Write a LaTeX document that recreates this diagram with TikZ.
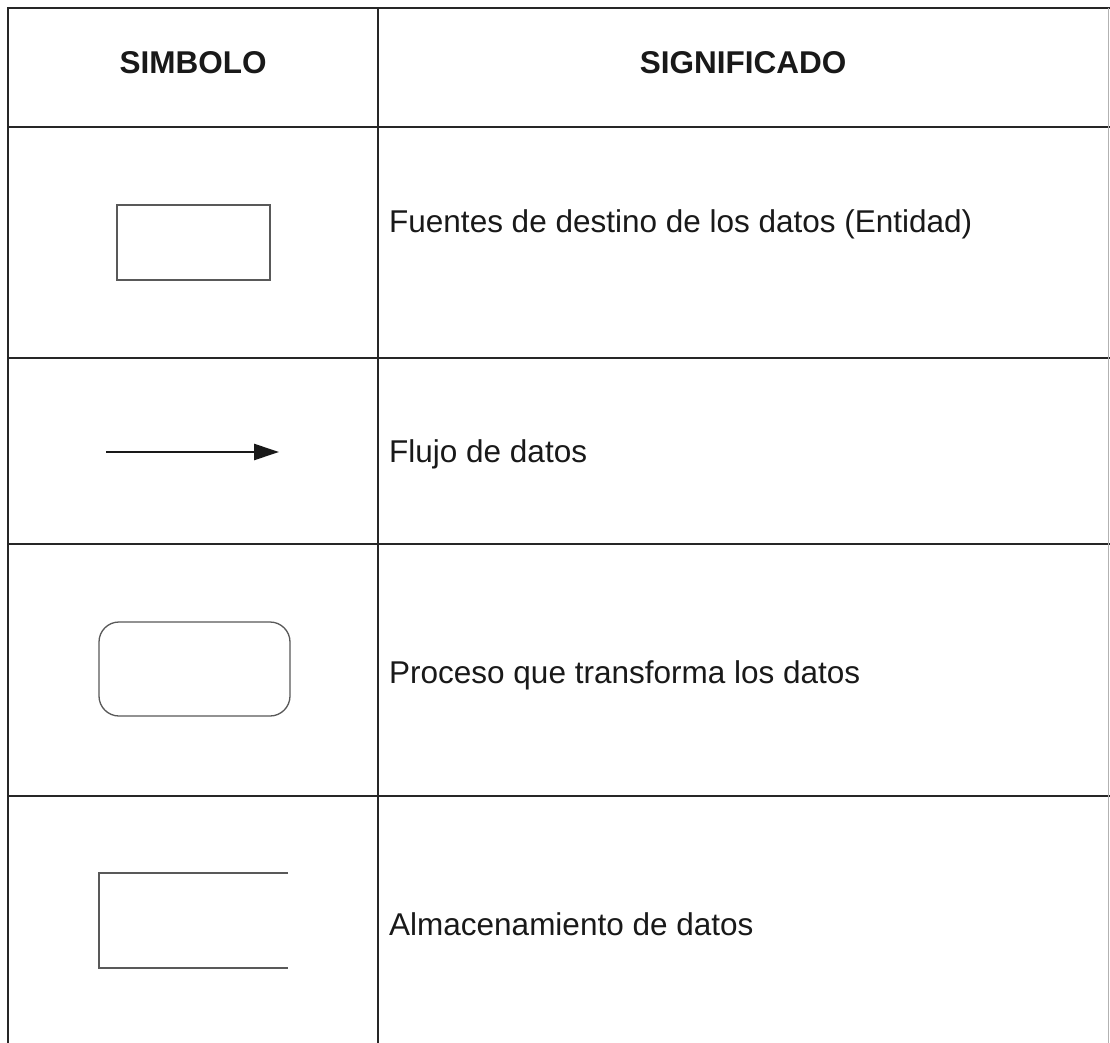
\documentclass[tikz,border=0pt]{standalone}
\usepackage{fontspec}
\setmainfont{Liberation Sans}
\usetikzlibrary{arrows.meta}
\begin{document}
\begin{tikzpicture}[x=1pt,y=-1pt,
  gridline/.style={line width=1.6pt, draw=black!85},
  shp/.style={draw=black!65, line width=1.3pt, inner sep=0pt, outer sep=0pt},
  lbl/.style={anchor=base west, inner sep=0pt, font=\fontsize{31.5}{36}\selectfont, text=black!90},
  hdr/.style={anchor=base, inner sep=0pt, font=\bfseries\fontsize{31.5}{36}\selectfont, text=black!90}]
\path[fill=white] (0,0) rectangle (1110,1043);
\useasboundingbox (0,0) rectangle (1110,1043);

% table grid
\draw[gridline] (1110,8) -- (8,8) -- (8,1043);
\draw[gridline] (378,8) -- (378,1043);
\draw[gridline] (8,127) -- (1110,127);
\draw[gridline] (8,358) -- (1110,358);
\draw[gridline] (8,544) -- (1110,544);
\draw[gridline] (8,796) -- (1110,796);
\draw[draw=black!30, line width=0.8pt] (1108,8) -- (1108,1043);

% headers
\node[hdr] (h1) at (193,74) {SIMBOLO};
\node[hdr] (h2) at (743,74) {SIGNIFICADO};

% row 1: entity
\node[shp, minimum width=153pt, minimum height=75pt] (ent) at (193.5,242.5) {};
\node[lbl] (t1) at (389,232) {Fuentes de destino de los datos (Entidad)};

% row 2: data flow
\coordinate (a1) at (106,452);
\coordinate (a2) at (279,452);
\draw[line width=2.6pt, draw=black!90, -{Triangle[length=25pt,width=16pt]}] (a1) -- (a2);
\node[lbl] (t2) at (389,462) {Flujo de datos};

% row 3: process
\node[shp, rounded corners=20pt, minimum width=191pt, minimum height=94pt] (proc) at (194.5,669) {};
\node[lbl] (t3) at (389,683) {Proceso que transforma los datos};

% row 4: data store
\node[inner sep=0pt, outer sep=0pt, minimum width=189pt, minimum height=95pt] (store) at (193.5,920.5) {};
\draw[shp] (store.north east) -- (store.north west) -- (store.south west) -- (store.south east);
\node[lbl] (t4) at (389,935) {Almacenamiento de datos};
\end{tikzpicture}
\end{document}
